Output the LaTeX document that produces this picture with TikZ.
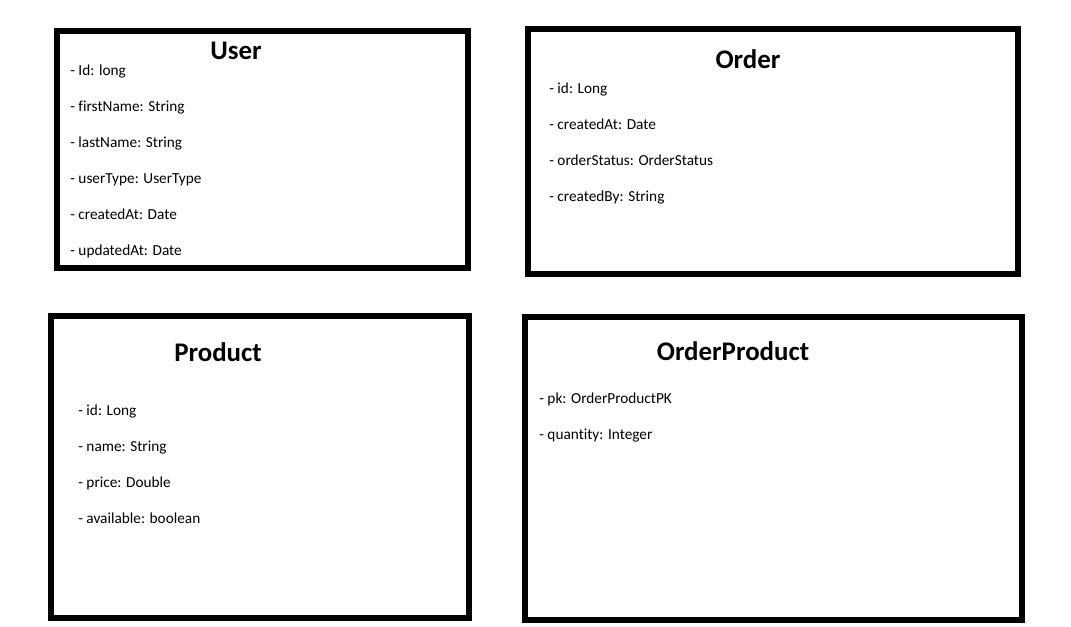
\documentclass[tikz,border=0pt]{standalone}
\usepackage{fontspec}
\setmainfont[Ligatures=NoCommon]{Carlito}
\begin{document}
\begin{tikzpicture}[x=0.02cm,y=-0.02cm,
    entity/.style={line width=3.2pt},
    title/.style={font=\fontsize{15.3}{18}\selectfont\bfseries,inner sep=0pt},
    attr/.style={anchor=west,font=\fontsize{8.7}{10}\selectfont,inner sep=0pt,
      text height=1.5ex,text depth=.25ex}]
  \useasboundingbox (0,0) rectangle (1071,626);
  % User
  \draw[entity] (57,31) rectangle (468,268);
  \node[title] (user) at (236,51) {User};
  \foreach \t [count=\i from 0] in {Id: long,firstName: String,lastName: String,
      userType: UserType,createdAt: Date,updatedAt: Date}
    \node[attr] (user-\i) at (70,70+36*\i) {- \t};
  % Order
  \draw[entity] (528,29) rectangle (1018,274);
  \node[title] (order) at (748,59) {Order};
  \foreach \t [count=\i from 0] in {id: Long,createdAt: Date,
      orderStatus: OrderStatus,createdBy: String}
    \node[attr] (order-\i) at (549,88+36*\i) {- \t};
  % Product
  \draw[entity] (51,316) rectangle (469,618);
  \node[title] (product) at (218,352) {Product};
  \foreach \t [count=\i from 0] in {id: Long,name: String,price: Double,
      available: boolean}
    \node[attr] (product-\i) at (78,410+36*\i) {- \t};
  % OrderProduct
  \draw[entity] (525,317) rectangle (1022,620);
  \node[title] (orderproduct) at (733,351) {OrderProduct};
  \foreach \t [count=\i from 0] in {pk: OrderProductPK,quantity: Integer}
    \node[attr] (orderproduct-\i) at (539,398+36*\i) {- \t};
\end{tikzpicture}
\end{document}
